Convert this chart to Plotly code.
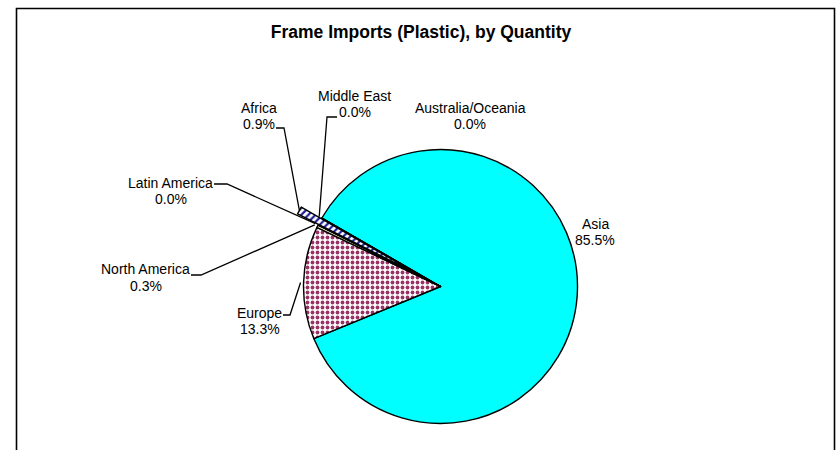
import math
import plotly.graph_objects as go

# ---- data (clockwise order, starting with Asia) ----
regions = ["Asia", "Europe", "North America", "Latin America", "Africa", "Middle East", "Australia/Oceania"]
shares = [85.5, 13.3, 0.3, 0.02, 0.9, 0.01, 0.01]
pulls = [0, 0, 0, 0, 0.17, 0, 0]
colors = ["#00FFFF", "#FFFFFF", "#FFFFCC", "#CCFFFF", "#FFFFFF", "#FF8080", "#993300"]
pattern_shapes = ["", ".", "", "", "/", "", ""]
pattern_fg = ["#000000", "#993366", "#000000", "#000000", "#1F1F99", "#000000", "#000000"]
title_text = "Frame Imports (Plastic), by Quantity"

# ---- layout constants (pixels) ----
W, H = 840, 450
CX, CY, R = 440.5, 286.5, 137.0
ROTATION = -60
FONT = "Liberation Sans, Arial, sans-serif"

# label placement: name centre (x, y), percent y, leader tick (start x, y, end x)
label_pos = {
    "Asia": (595, 224, 240, None),
    "Europe": (259.5, 312.5, 329, (283, 315, 290)),
    "North America": (145.5, 269, 286, (191, 275, 201)),
    "Latin America": (170.5, 183, 199, (214, 184, 227)),
    "Africa": (259, 108, 123.5, (276, 128, 284)),
    "Middle East": (354.5, 96.3, 112, (337, 117, 327)),
    "Australia/Oceania": (470, 108.3, 124.3, None),
}

maxpull = max(pulls)
box = 2 * R * (1 + maxpull)
dom_x = [(CX - box / 2) / W, (CX + box / 2) / W]
dom_y = [1 - (CY + box / 2) / H, 1 - (CY - box / 2) / H]

fig = go.Figure(go.Pie(
    labels=regions,
    values=shares,
    sort=False,
    direction="clockwise",
    rotation=ROTATION,
    pull=pulls,
    textinfo="none",
    hoverinfo="label+percent",
    domain=dict(x=dom_x, y=dom_y),
    marker=dict(
        colors=colors,
        line=dict(color="#000000", width=1.4),
        pattern=dict(shape=pattern_shapes, fgcolor=pattern_fg, bgcolor=colors,
                     size=5, solidity=0.45),
    ),
    showlegend=False,
))

def px(x):
    return x / W

def py(y):
    return 1 - y / H

total = sum(shares)
annotations = []
shapes = []
angle = ROTATION
for name, v, pl in zip(regions, shares, pulls):
    span = 360 * v / total
    mid = math.radians(angle + span / 2)
    angle += span
    r = R * (1 + pl) if pl else R + 3
    ax = CX + r * math.sin(mid)
    ay = CY - r * math.cos(mid)
    lx, ly1, ly2, tick = label_pos[name]
    pct = f"{v / total * 100:.1f}%"
    for txt, yy in ((name, ly1), (pct, ly2)):
        annotations.append(dict(
            x=px(lx), y=py(yy), xref="paper", yref="paper",
            text=txt, showarrow=False, xanchor="center", yanchor="middle",
            font=dict(family=FONT, size=14, color="#000000"),
        ))
    if tick:
        sx, sy, ex = tick
        shapes.append(dict(
            type="path", xref="paper", yref="paper",
            path=f"M {px(sx)} {py(sy)} L {px(ex)} {py(sy)} L {px(ax)} {py(ay)}",
            line=dict(color="#000000", width=1.3),
        ))

# chart frame
shapes.append(dict(type="rect", xref="paper", yref="paper",
                   x0=px(16.5), x1=px(834.5), y0=py(460), y1=py(8.5),
                   line=dict(color="#000000", width=1.6), layer="below"))

fig.update_layout(
    width=W, height=H, autosize=False,
    margin=dict(l=0, r=0, t=0, b=0),
    paper_bgcolor="#FFFFFF", plot_bgcolor="#FFFFFF",
    title=dict(text=f"<b>{title_text}</b>", x=421 / W, y=py(32.3),
               xanchor="center", yanchor="middle", xref="paper", yref="paper",
               font=dict(family=FONT, size=17.5, color="#000000")),
    annotations=annotations,
    shapes=shapes,
)

fig.write_html("out.html")
